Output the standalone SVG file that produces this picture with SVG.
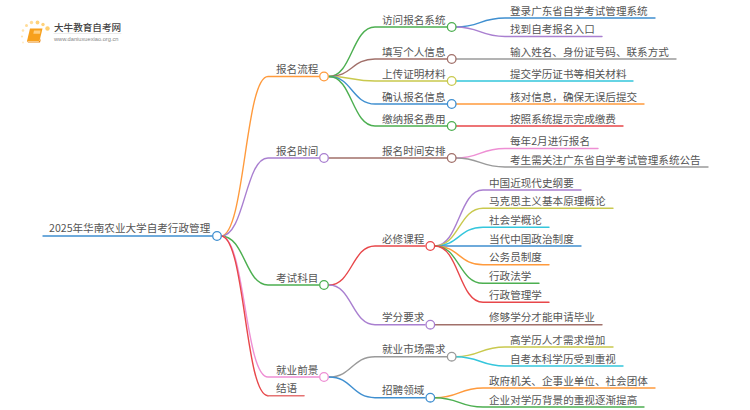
<svg xmlns="http://www.w3.org/2000/svg" width="750" height="410" viewBox="0 0 750 410">
<style>
text{font-family:"Noto Sans CJK SC","Liberation Sans",sans-serif;font-size:10.6px;fill:#555}
path{fill:none;stroke-width:1.4;stroke-linecap:round}
circle{fill:#fff;stroke-width:1.3}
.d{stroke:none}
.g{stroke:#4caf50}.o{stroke:#ff9a3c}.p{stroke:#a97fd0}.b{stroke:#3f8fd0}.br{stroke:#a1706a}.y{stroke:#c9c94e}.c{stroke:#35c6dc}.r{stroke:#e8474a}.pk{stroke:#ee8fd4}.gr{stroke:#9a9a9a}
</style>
<rect width="750" height="410" fill="#fff"/>
<g id="connectors">
<path class="b" d="M43 236H212"/>
<path class="o" d="M221 236C245 236 245 76.5 268 76.5H319"/>
<path class="p" d="M221 236C245 236 245 158 268 158H319"/>
<path class="g" d="M221 236C245 236 245 285 268 285H319"/>
<path class="pk" d="M221 236C245 236 245 377 268 377H319"/>
<path class="r" d="M221 236C245 236 245 395.7 268 395.7"/>
<path d="M268 395.7H304" stroke="#e57373" style="stroke-width:1.6"/>
<path class="g" d="M329 76.5C352 76.5 352 27 375 27H447"/>
<path class="br" d="M329 76.5C352 76.5 352 59 375 59H447"/>
<path class="y" d="M329 76.5C352 76.5 352 81 375 81H447"/>
<path class="b" d="M329 76.5C352 76.5 352 104 375 104H447"/>
<path class="g" d="M329 76.5C352 76.5 352 126 375 126H447"/>
<path class="br" d="M329 158H447"/>
<path class="r" d="M329 285C352 285 352 246 375 246H425"/>
<path class="p" d="M329 285C352 285 352 324.7 375 324.7H425"/>
<path class="gr" d="M329 377C352 377 352 356.7 375 356.7H447"/>
<path class="b" d="M329 377C352 377 352 397.7 375 397.7H425"/>
<path class="b" d="M456 27C480 27 480 18 505 18H655"/>
<path class="p" d="M456 27C480 27 480 36.5 505 36.5H602"/>
<path class="gr" d="M456 59H676"/>
<path class="c" d="M456 81H633"/>
<path class="o" d="M456 104H644"/>
<path class="r" d="M456 126H623"/>
<path class="pk" d="M456 158C480 158 480 148.5 505 148.5H598"/>
<path class="gr" d="M456 158C480 158 480 167 505 167H708"/>
<path class="p" d="M435 246C459 246 459 190 483 190H581"/>
<path class="y" d="M435 246C459 246 459 208.3 483 208.3H613"/>
<path class="c" d="M435 246C459 246 459 227.3 483 227.3H549"/>
<path class="b" d="M435 246H581"/>
<path class="o" d="M435 246C459 246 459 264.7 483 264.7H549"/>
<path class="g" d="M435 246C459 246 459 283.3 483 283.3H539"/>
<path class="r" d="M435 246C459 246 459 302.3 483 302.3H549"/>
<path class="br" d="M435 324.7H602"/>
<path class="y" d="M456 356.7C480 356.7 480 347 505 347H613"/>
<path class="c" d="M456 356.7C480 356.7 480 366 505 366H623"/>
<path class="o" d="M435 397.7C459 397.7 459 388 483 388H655"/>
<path class="g" d="M435 397.7C459 397.7 459 407 483 407H644"/>
</g>
<g id="logo">
<circle class="d" cx="47.5" cy="28.5" r="2.2" fill="#ffcf70" style="fill:#ffcf70"/><circle class="d" cx="43" cy="24.5" r="1.7" style="fill:#ffd27a"/><circle class="d" cx="37.5" cy="22.5" r="1.9" style="fill:#ffd27a"/><circle class="d" cx="31.5" cy="22.5" r="1.7" style="fill:#ffdc98"/><circle class="d" cx="26.5" cy="25.5" r="1.5" style="fill:#ffdc98"/><circle class="d" cx="23" cy="30.5" r="1.3" style="fill:#ffe4b0"/><circle class="d" cx="22" cy="36.5" r="1.1" style="fill:#ffe4b0"/><circle class="d" cx="23" cy="42.5" r="1" style="fill:#ffecc8"/>
<polygon points="30,28.5 42.5,28.5 39.5,41 27,41" fill="#f7a01c"/>
<polygon points="27,41 39.5,41 41,38.5 40,42.5 28,42.5" fill="#e8850f"/>
<polygon points="27.8,41.2 39,41.2 38.8,41.9 27.8,41.9" fill="#ffe0b0"/>
<polygon points="34,30.5 40.5,30.5 40,33.8 33.3,33.8" fill="#ffcf80"/>
<text x="54" y="31" style="font-size:9.6px;fill:#444;font-weight:500">大牛教育自考网</text>
<path d="M54 33.5H121" stroke="#ddd" style="stroke-width:.6"/>
<text x="54" y="41" style="font-family:'Liberation Sans',sans-serif;font-size:5.7px;fill:#888">www.daniuxuexiao.org.cn</text>
</g>
<g id="root"><text x="49" y="232">2025年华南农业大学自考行政管理</text><circle class="b" cx="217" cy="236" r="4.3"/></g>
<g id="n1"><text x="276" y="73">报名流程</text><circle class="o" cx="324" cy="76.5" r="4.3"/></g>
<g id="n2"><text x="276" y="154.5">报名时间</text><circle class="p" cx="324" cy="158" r="4.3"/></g>
<g id="n3"><text x="276" y="281.5">考试科目</text><circle class="g" cx="324" cy="285" r="4.3"/></g>
<g id="n4"><text x="276" y="373.5">就业前景</text><circle class="pk" cx="324" cy="377" r="4.3"/></g>
<g id="n5"><text x="276" y="392">结语</text></g>
<g id="n11"><text x="382" y="23.5">访问报名系统</text><circle class="g" cx="451.7" cy="27" r="4.3"/></g>
<g id="n12"><text x="382" y="55.5">填写个人信息</text><circle class="br" cx="451.7" cy="59" r="4.3"/></g>
<g id="n13"><text x="382" y="77.5">上传证明材料</text><circle class="y" cx="451.7" cy="81" r="4.3"/></g>
<g id="n14"><text x="382" y="100.5">确认报名信息</text><circle class="b" cx="451.7" cy="104" r="4.3"/></g>
<g id="n15"><text x="382" y="122.5">缴纳报名费用</text><circle class="g" cx="451.7" cy="126" r="4.3"/></g>
<g id="n21"><text x="382" y="154.5">报名时间安排</text><circle class="br" cx="451.7" cy="158" r="4.3"/></g>
<g id="n31"><text x="382" y="242.5">必修课程</text><circle class="r" cx="430.3" cy="246" r="4.3"/></g>
<g id="n32"><text x="382" y="321">学分要求</text><circle class="p" cx="430.3" cy="324.7" r="4.3"/></g>
<g id="n41"><text x="382" y="353">就业市场需求</text><circle class="gr" cx="451.7" cy="356.7" r="4.3"/></g>
<g id="n42"><text x="382" y="394">招聘领域</text><circle class="b" cx="430.3" cy="397.7" r="4.3"/></g>
<g id="leaves">
<text x="510" y="14.5">登录广东省自学考试管理系统</text>
<text x="510" y="33">找到自考报名入口</text>
<text x="510" y="55.5">输入姓名、身份证号码、联系方式</text>
<text x="510" y="77.5">提交学历证书等相关材料</text>
<text x="510" y="100.5">核对信息，确保无误后提交</text>
<text x="510" y="122.5">按照系统提示完成缴费</text>
<text x="510" y="145">每年2月进行报名</text>
<text x="510" y="163.5">考生需关注广东省自学考试管理系统公告</text>
<text x="489" y="186.5">中国近现代史纲要</text>
<text x="489" y="205">马克思主义基本原理概论</text>
<text x="489" y="224">社会学概论</text>
<text x="489" y="242.5">当代中国政治制度</text>
<text x="489" y="261">公务员制度</text>
<text x="489" y="280">行政法学</text>
<text x="489" y="299">行政管理学</text>
<text x="489" y="321">修够学分才能申请毕业</text>
<text x="510" y="343.5">高学历人才需求增加</text>
<text x="510" y="362.5">自考本科学历受到重视</text>
<text x="489" y="384.5">政府机关、企事业单位、社会团体</text>
<text x="489" y="403.5">企业对学历背景的重视逐渐提高</text>
</g>
</svg>
